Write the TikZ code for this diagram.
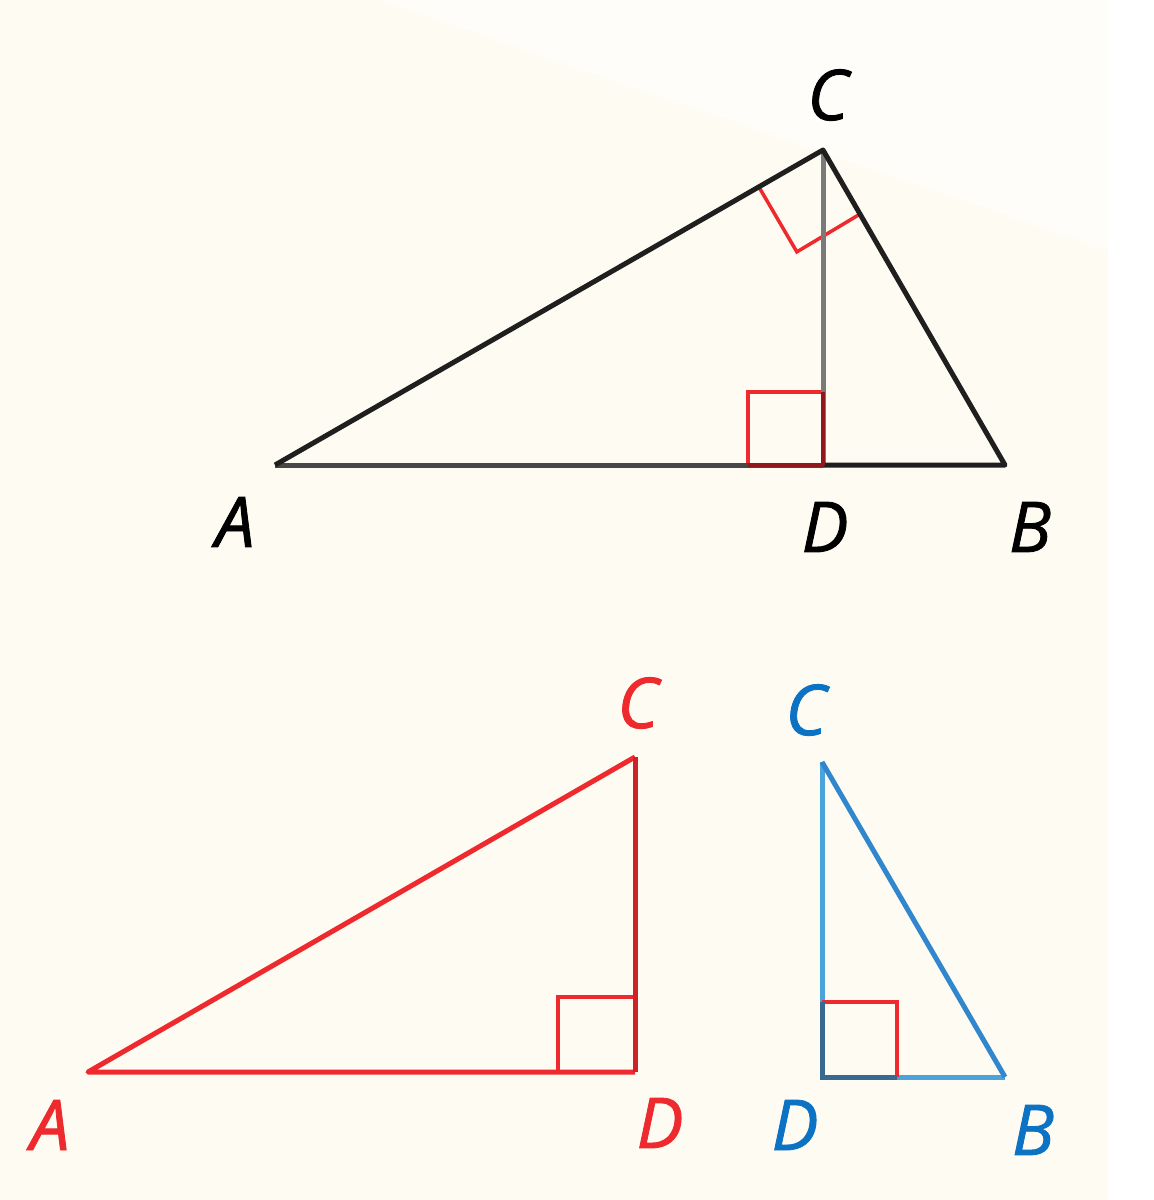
\documentclass[tikz,border=0pt]{standalone}
\usepackage{fontspec}
\setmainfont{Open Sans}[ItalicFeatures={FakeBold=1.2}]
\usetikzlibrary{calc}
\definecolor{cream}{HTML}{FDFBF2}
\definecolor{creamlight}{HTML}{FEFDF9}
\definecolor{mred}{HTML}{EE2A2E}
\definecolor{dred}{HTML}{CC2228}
\definecolor{mblue}{HTML}{0B72C4}
\definecolor{lblue}{HTML}{4AA3DA}
\definecolor{gline}{HTML}{7A7A7A}
\begin{document}
\begin{tikzpicture}[x=1pt,y=-1pt,
  edge/.style={line width=5pt,line join=round},
  ramark/.style={draw=mred,line width=3.5pt},
  lab/.style={font=\fontsize{70}{70}\selectfont\itshape,inner sep=0pt}]
\useasboundingbox (0,0) rectangle (1154,1200);
\fill[white] (0,0) rectangle (1154,1200);
\fill[cream] (0,0) rectangle (1108,1200);
\fill[creamlight] (380,0) -- (1108,0) -- (1108,250) -- cycle;
% top triangle
\coordinate (A) at (275,465);
\coordinate (B) at (1005,465);
\coordinate (C) at (823,150);
\coordinate (D) at (823,465);
\draw[ramark] (748,465) -- (748,392) -- (823,392);
\draw[ramark] ($(C)!74pt!(A)$) -- ++(38,65) coordinate (k) -- ($(C)!74pt!(B)$);
\draw[edge,color=gline] (C) -- (D);
\draw[edge,color=black!72] (A) -- (D);
\draw[edge,color=black!88] (D) -- (B) -- (C) -- (A);
\draw[edge,color=dred!70!black,line width=3.5pt] (748,465) -- (D) -- (823,392);
\node[lab] (lC) at (828,95) {C};
\node[lab] (lA) at (235,522) {A};
\node[lab] (lD) at (825,527) {D};
\node[lab] (lB) at (1030,527) {B};
% red triangle
\coordinate (rA) at (88,1072);
\coordinate (rD) at (635,1072);
\coordinate (rC) at (635,757);
\draw[ramark] (558,1072) -- (558,997) -- (635,997);
\draw[edge,color=mred] (rD) -- (rA) -- (rC);
\draw[edge,color=dred] (rC) -- (rD);
\node[lab,text=mred] (rlC) at (638,703) {C};
\node[lab,text=mred] (rlA) at (50,1125) {A};
\node[lab,text=mred] (rlD) at (660,1123) {D};
% blue triangle
\coordinate (bC) at (822,762);
\coordinate (bD) at (822,1077);
\coordinate (bB) at (1005,1077);
\draw[edge,color=lblue] (bC) -- (bD) -- (bB);
\draw[edge,color=mblue!85] (bC) -- (bB);
\draw[ramark] (822,1002) -- (897,1002) -- (897,1077);
\draw[draw=mblue!60!black!80,line width=5pt] (822,1002) -- (bD) -- (897,1077);
\node[lab,text=mblue] (blC) at (806,710) {C};
\node[lab,text=mblue] (blD) at (795,1125) {D};
\node[lab,text=mblue] (blB) at (1033,1130) {B};
\end{tikzpicture}
\end{document}
